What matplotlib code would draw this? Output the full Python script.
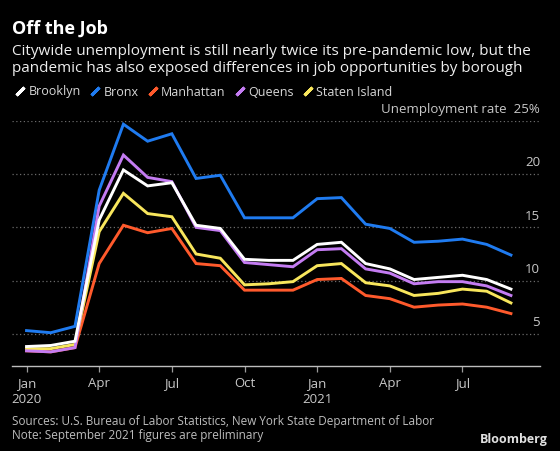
import matplotlib
matplotlib.use("Agg")
import matplotlib.pyplot as plt
from matplotlib.lines import Line2D
import numpy as np

# monthly unemployment rate (%), Jan 2020 .. Sep 2021
months = ["2020-01", "2020-02", "2020-03", "2020-04", "2020-05", "2020-06", "2020-07",
          "2020-08", "2020-09", "2020-10", "2020-11", "2020-12", "2021-01", "2021-02",
          "2021-03", "2021-04", "2021-05", "2021-06", "2021-07", "2021-08", "2021-09"]
brooklyn = [3.8, 3.9, 4.3, 15.7, 20.4, 18.9, 19.2, 15.2, 14.9, 12.0, 11.9, 11.9,
            13.4, 13.6, 11.6, 11.1, 10.1, 10.3, 10.5, 10.1, 9.2]
bronx = [5.3, 5.1, 5.7, 18.5, 24.7, 23.1, 23.8, 19.6, 19.9, 15.9, 15.9, 15.9,
         17.7, 17.8, 15.3, 14.9, 13.6, 13.7, 13.9, 13.4, 12.4]
manhattan = [3.4, 3.3, 3.7, 11.6, 15.2, 14.5, 14.9, 11.6, 11.4, 9.1, 9.1, 9.1,
             10.1, 10.2, 8.6, 8.3, 7.5, 7.7, 7.8, 7.5, 6.9]
queens = [3.4, 3.3, 3.7, 17.0, 21.8, 19.7, 19.3, 15.0, 14.7, 11.7, 11.5, 11.3,
          12.9, 13.0, 11.1, 10.7, 9.7, 9.9, 9.9, 9.5, 8.6]
staten = [3.6, 3.6, 4.0, 14.6, 18.2, 16.3, 16.0, 12.5, 12.1, 9.6, 9.7, 9.9,
          11.4, 11.6, 9.8, 9.5, 8.6, 8.8, 9.2, 9.0, 7.9]

names = ["Brooklyn", "Bronx", "Manhattan", "Queens", "Staten Island"]
colors = ["#ffffff", "#1f7bf0", "#ff5a2c", "#c47cf2", "#f8e65c"]
series = [brooklyn, bronx, manhattan, queens, staten]

yticks = [5, 10, 15, 20, 25]
xtick_idx = [0, 3, 6, 9, 12, 15, 18]
xtick_labels = ["Jan\n2020", "Apr", "Jul", "Oct", "Jan\n2021", "Apr", "Jul"]

plt.rcParams['font.family'] = ['Open Sans', 'DejaVu Sans']
bg = "#000000"
fig = plt.figure(figsize=(5.6, 4.51), dpi=100, facecolor=bg)
ax = fig.add_axes([12/560, 85.3/451, 528/560, 244.7/451])
ax.set_facecolor(bg)

x = np.arange(len(months))
# draw order: Bronx back, then others
order = [1, 2, 4, 3, 0]
for i in order:
    ax.plot(x, series[i], color=colors[i], lw=2.1, solid_joinstyle="miter", clip_on=False, zorder=3)

ax.set_xlim(-0.6, 21.2)
ax.set_ylim(2, 25)

for v in yticks:
    ax.axhline(v, color="#6a6a6a", lw=0.9, ls=(0, (1, 2)), zorder=1)
    lab = "Unemployment rate  25%" if v == 25 else str(v)
    ax.text(1.0, v + 0.45, lab, transform=ax.get_yaxis_transform(), ha="right", va="bottom",
            color="#c8c8c8", fontsize=9.5)

ax.set_yticks([])
ax.set_xticks(xtick_idx)
ax.set_xticklabels(xtick_labels, color="#c8c8c8", fontsize=9.5, linespacing=1.35)
ax.tick_params(axis="x", colors="#9a9a9a", length=4, width=0.9, pad=4, labelcolor="#c8c8c8")
for s in ["top", "right", "left"]:
    ax.spines[s].set_visible(False)
ax.spines["bottom"].set_color("#bdbdbd")
ax.spines["bottom"].set_linewidth(1.0)

fig.text(12/560, 1 - 29/451, "Off the Job", color="white", fontsize=13, fontweight="bold",
         va="center", ha="left")
fig.text(12/560, 1 - 60/451,
         "Citywide unemployment is still nearly twice its pre-pandemic low, but the\n"
         "pandemic has also exposed differences in job opportunities by borough",
         color="#eeeeee", fontsize=11, va="center", ha="left", linespacing=1.1)

handles = [Line2D([], [], color=c, marker=(2, 2, -45), markersize=8, markeredgewidth=2.2, lw=0)
           for c in colors]
leg = fig.legend(handles, names, loc="center left", bbox_to_anchor=(4/560, 1 - 92/451),
                 ncol=5, frameon=False, handlelength=0.8, handletextpad=0.3, columnspacing=0.7,
                 fontsize=9, labelcolor="#d8d8d8")

fig.text(12/560, 1 - 421/451, "Sources: U.S. Bureau of Labor Statistics, New York State Department of Labor",
         color="#bdbdbd", fontsize=8.5, va="center", ha="left")
fig.text(12/560, 1 - 436/451, "Note: September 2021 figures are preliminary",
         color="#bdbdbd", fontsize=8.5, va="center", ha="left")
fig.text(548/560, 1 - 439/451, "Bloomberg", color="#e0e0e0", fontsize=9, fontweight="bold",
         va="center", ha="right")

fig.savefig("out.png", dpi=100, facecolor=bg)
